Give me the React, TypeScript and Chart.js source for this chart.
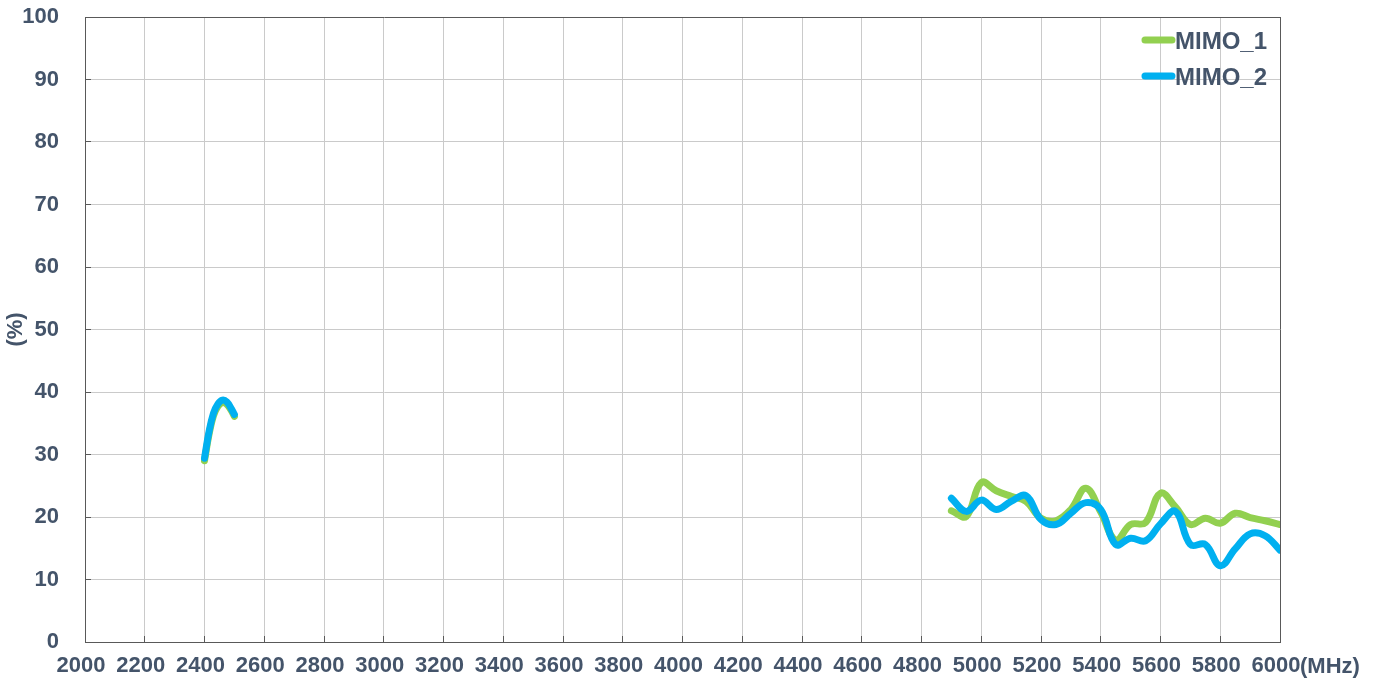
import React, { useEffect, useRef } from "react";
import { Chart, registerables } from "chart.js";

Chart.register(...registerables);

// ---- Data ----
const xTickValues = [2000, 2200, 2400, 2600, 2800, 3000, 3200, 3400, 3600, 3800, 4000, 4200, 4400, 4600, 4800, 5000, 5200, 5400, 5600, 5800, 6000];
const yTickValues = [0, 10, 20, 30, 40, 50, 60, 70, 80, 90, 100];

const band24Freq = [2400, 2415, 2430, 2445, 2460, 2475, 2490, 2500];
const mimo1Band24 = [29.0, 33.2, 36.2, 37.7, 38.3, 38.0, 37.0, 36.1];
const mimo2Band24 = [29.4, 33.6, 36.6, 38.1, 38.7, 38.4, 37.3, 36.4];

const band5Freq = [4900, 4950, 5000, 5050, 5100, 5150, 5200, 5250, 5300, 5350, 5400, 5450, 5500, 5550, 5600, 5650, 5700, 5750, 5800, 5850, 5900, 5950, 6000];
const mimo1Band5 = [21.0, 20.1, 25.5, 24.2, 23.3, 22.5, 19.8, 19.4, 21.2, 24.6, 20.8, 16.3, 18.8, 19.1, 23.8, 21.6, 18.8, 19.8, 19.0, 20.6, 19.9, 19.4, 18.8];
const mimo2Band5 = [23.0, 20.9, 22.7, 21.2, 22.5, 23.4, 19.6, 18.8, 20.6, 22.3, 21.2, 15.6, 16.6, 16.2, 18.9, 20.9, 15.6, 15.6, 12.2, 14.9, 17.3, 17.0, 14.7];

const gapFreq = 3700;

const seriesNames = ["MIMO_1", "MIMO_2"];
const seriesColors = ["#92D050", "#00B0F0"];

const TEXT_COLOR = "#44546A";
const FONT_FAMILY = '"Liberation Sans", Arial, sans-serif';
const GRID_COLOR = "#CACACA";
const BORDER_COLOR = "#595959";

function buildPoints(lowVals: number[], highVals: number[]) {
  const pts: { x: number; y: number | null }[] = [];
  band24Freq.forEach((f, i) => pts.push({ x: f, y: lowVals[i] }));
  pts.push({ x: gapFreq, y: null });
  band5Freq.forEach((f, i) => pts.push({ x: f, y: highVals[i] }));
  return pts;
}

const insideLegend = {
  id: "insideLegend",
  afterDatasetsDraw(chart: any) {
    const { ctx, chartArea } = chart;
    ctx.save();
    ctx.font = `bold 24px ${FONT_FAMILY}`;
    const labels: string[] = chart.data.datasets.map((d: any) => d.label);
    const maxW = Math.max(...labels.map((l) => ctx.measureText(l).width));
    const textX = chartArea.right - 13 - maxW;
    chart.data.datasets.forEach((ds: any, i: number) => {
      const y = chartArea.top + 23 + i * 36;
      ctx.strokeStyle = ds.borderColor;
      ctx.lineWidth = 7;
      ctx.lineCap = "round";
      ctx.beginPath();
      ctx.moveTo(textX - 30, y);
      ctx.lineTo(textX - 3, y);
      ctx.stroke();
      ctx.fillStyle = TEXT_COLOR;
      ctx.textAlign = "left";
      ctx.textBaseline = "middle";
      ctx.fillText(ds.label, textX, y + 2);
    });
    ctx.restore();
  },
};

const unitLabel = {
  id: "unitLabel",
  afterDraw(chart: any) {
    const { ctx, chartArea } = chart;
    ctx.save();
    ctx.font = `bold 22px ${FONT_FAMILY}`;
    ctx.fillStyle = TEXT_COLOR;
    ctx.textAlign = "left";
    ctx.textBaseline = "middle";
    ctx.fillText("(MHz)", chartArea.right + 20, chartArea.bottom + 25);
    ctx.restore();
  },
};

export default function App() {
  const canvasRef = useRef<HTMLCanvasElement | null>(null);

  useEffect(() => {
    if (!canvasRef.current) return;
    const chart = new Chart(canvasRef.current, {
      type: "line",
      data: {
        datasets: [
          {
            label: seriesNames[0],
            data: buildPoints(mimo1Band24, mimo1Band5) as any,
            borderColor: seriesColors[0],
            backgroundColor: seriesColors[0],
            borderWidth: 7,
            borderCapStyle: "round",
            borderJoinStyle: "round",
            pointRadius: 0,
            tension: 0.4,
            spanGaps: false,
            order: 2,
          },
          {
            label: seriesNames[1],
            data: buildPoints(mimo2Band24, mimo2Band5) as any,
            borderColor: seriesColors[1],
            backgroundColor: seriesColors[1],
            borderWidth: 7,
            borderCapStyle: "round",
            borderJoinStyle: "round",
            pointRadius: 0,
            tension: 0.4,
            spanGaps: false,
            order: 1,
          },
        ],
      },
      options: {
        animation: false,
        responsive: false,
        maintainAspectRatio: false,
        layout: { padding: { left: 0, top: 17, right: 102, bottom: 0 } },
        plugins: {
          legend: { display: false },
          tooltip: { enabled: false },
        },
        scales: {
          x: {
            type: "linear",
            min: 2000,
            max: 6000,
            afterBuildTicks: (scale: any) => {
              scale.ticks = xTickValues.map((v) => ({ value: v }));
            },
            afterFit: (scale: any) => {
              scale.height = 42;
              scale.paddingLeft = 0;
              scale.paddingRight = 0;
              scale.paddingTop = 0;
              scale.paddingBottom = 0;
            },
            grid: {
              color: (c: any) => (c.tick && c.tick.value === 6000 ? BORDER_COLOR : GRID_COLOR),
              lineWidth: 1,
              drawTicks: true,
              tickLength: -6,
              tickColor: BORDER_COLOR,
            },
            border: { display: true, color: BORDER_COLOR, width: 1 },
            ticks: {
              autoSkip: false,
              maxRotation: 0,
              padding: 17,
              labelOffset: -4,
              color: TEXT_COLOR,
              font: { family: FONT_FAMILY, size: 22, weight: "bold" },
              callback: (v: any) => String(v),
            },
          },
          y: {
            type: "linear",
            min: 0,
            max: 100,
            afterBuildTicks: (scale: any) => {
              scale.ticks = yTickValues.map((v) => ({ value: v }));
            },
            afterFit: (scale: any) => {
              scale.width = 85;
              scale.paddingLeft = 0;
              scale.paddingRight = 0;
              scale.paddingTop = 0;
              scale.paddingBottom = 0;
            },
            grid: {
              color: (c: any) => (c.tick && c.tick.value === 100 ? BORDER_COLOR : GRID_COLOR),
              lineWidth: 1,
              drawTicks: true,
              tickLength: -6,
              tickColor: BORDER_COLOR,
            },
            border: { display: true, color: BORDER_COLOR, width: 1 },
            ticks: {
              padding: 32,
              color: TEXT_COLOR,
              font: { family: FONT_FAMILY, size: 22, weight: "bold" },
              callback: (v: any) => String(v),
            },
            title: {
              display: true,
              text: "(%)",
              color: TEXT_COLOR,
              font: { family: FONT_FAMILY, size: 22, weight: "bold" },
              padding: { top: 3, bottom: 0 },
            },
          },
        },
      },
      plugins: [insideLegend, unitLabel],
    });
    return () => chart.destroy();
  }, []);

  return (
    <div style={{ position: "fixed", left: 0, top: 0, width: 1382, height: 684, background: "#fff" }}>
      <canvas ref={canvasRef} width={1382} height={684} style={{ width: 1382, height: 684, display: "block" }} />
    </div>
  );
}
